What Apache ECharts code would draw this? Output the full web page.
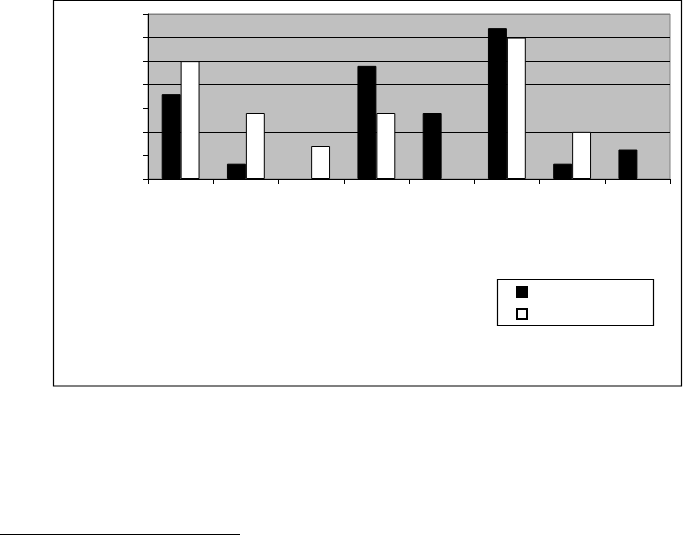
<!DOCTYPE html>
<html>
<head>
<meta charset="utf-8">
<script src="https://cdn.jsdelivr.net/npm/echarts@6/dist/echarts.min.js"></script>
<style>
html,body{margin:0;padding:0;background:#fff;}
#chart{width:683px;height:536px;}
</style>
</head>
<body>
<div id="chart"></div>
<script>
var categories = ['1', '2', '3', '4', '5', '6', '7', '8'];
var series1Name = 'Series1';
var series2Name = 'Series2';
// null = no bar drawn for that category
var series1Values = [3.6, 0.65, null, 4.8, 2.8, 6.4, 0.65, 1.25];
var series2Values = [5.0, 2.8, 1.4, 2.8, null, 6.0, 2.0, null];
var yMin = 0, yMax = 7, yInterval = 1;
// gridline visibility per tick value 0..7
var gridLineColors = ['transparent', 'transparent', '#000', 'transparent', '#000', '#000', '#000', '#808080'];

var chart = echarts.init(document.getElementById('chart'), null, {renderer: 'canvas'});
chart.setOption({
  animation: false,
  backgroundColor: '#fff',
  grid: {
    left: 148, top: 14, right: 13, bottom: 357,
    show: true, backgroundColor: '#c0c0c0', borderColor: '#808080', borderWidth: 1
  },
  xAxis: {
    type: 'category',
    data: categories,
    boundaryGap: true,
    axisLine: {lineStyle: {color: '#000', width: 1}},
    axisTick: {show: true, length: 5, inside: false, lineStyle: {color: '#000'}},
    axisLabel: {show: false},
    splitLine: {show: false}
  },
  yAxis: {
    type: 'value',
    min: yMin, max: yMax, interval: yInterval,
    axisLine: {show: true, lineStyle: {color: '#000', width: 1}},
    axisTick: {show: true, length: 5, inside: false, lineStyle: {color: '#000'}},
    axisLabel: {show: false},
    splitLine: {show: true, lineStyle: {color: gridLineColors, width: 1}}
  },
  legend: {
    show: true,
    orient: 'vertical',
    left: 516, top: 286,
    itemWidth: 10, itemHeight: 10, itemGap: 10,
    padding: 0,
    icon: 'rect',
    formatter: function () { return ''; },
    data: [series1Name, series2Name]
  },
  series: [
    {
      name: series1Name, type: 'bar', data: series1Values,
      barGap: '0%', barCategoryGap: '42%',
      itemStyle: {color: '#000', borderColor: '#000', borderWidth: 1}
    },
    {
      name: series2Name, type: 'bar', data: series2Values,
      barGap: '0%', barCategoryGap: '42%',
      itemStyle: {color: '#fff', borderColor: '#000', borderWidth: 1}
    }
  ],
  graphic: [
    {type: 'rect', shape: {x: 53.5, y: 0.5, width: 628, height: 385.5},
     style: {fill: null, stroke: '#000', lineWidth: 1.2}, z: 100, silent: true},
    {type: 'rect', shape: {x: 497.5, y: 279.5, width: 156, height: 46},
     style: {fill: null, stroke: '#000', lineWidth: 1.2}, z: 100, silent: true},
    {type: 'line', shape: {x1: 0, y1: 534.5, x2: 240, y2: 534.5},
     style: {stroke: '#000', lineWidth: 1}, z: 100, silent: true}
  ]
});
</script>
</body>
</html>
